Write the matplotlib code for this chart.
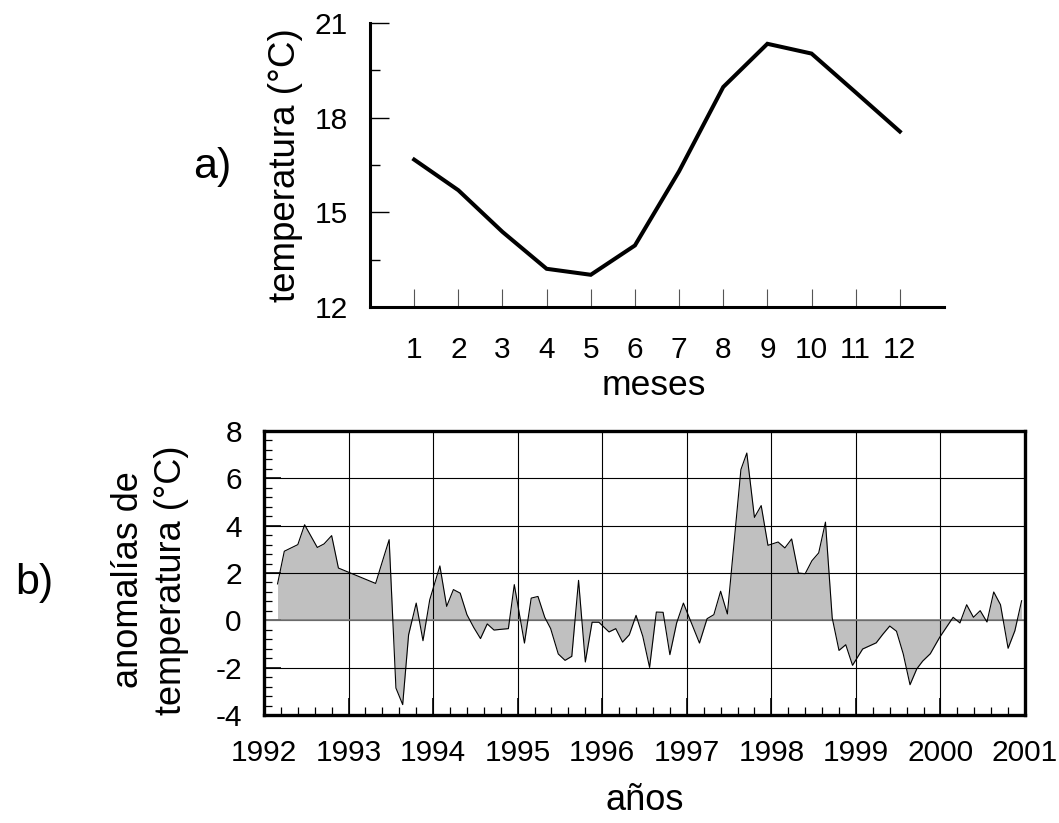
import matplotlib
matplotlib.use("Agg")
import matplotlib.pyplot as plt
from matplotlib.ticker import MultipleLocator

plt.rcParams['font.family'] = ['Liberation Sans', 'DejaVu Sans']
plt.rcParams['axes.unicode_minus'] = False

# a) monthly climatology
months = [1, 2, 3, 4, 5, 6, 7, 8, 9, 10, 11, 12]
temp_mean = [16.67, 15.70, 14.38, 13.21, 13.02, 13.95, 16.3, 18.97, 20.34, 20.03, 18.8, 17.56]

# b) monthly anomalies
years = [1992.16, 1992.24, 1992.40, 1992.48, 1992.63, 1992.71, 1992.80, 1992.88,
         1993.32, 1993.40, 1993.48, 1993.56, 1993.64, 1993.71, 1993.80, 1993.88,
         1993.96, 1994.08, 1994.16, 1994.24, 1994.32, 1994.40, 1994.48, 1994.56,
         1994.64, 1994.72, 1994.80, 1994.89, 1994.96, 1995.08, 1995.16, 1995.24,
         1995.32, 1995.39, 1995.48, 1995.56, 1995.64, 1995.72, 1995.80, 1995.88,
         1995.96, 1996.08, 1996.16, 1996.24, 1996.32, 1996.40, 1996.48, 1996.56,
         1996.64, 1996.72, 1996.80, 1996.88, 1996.96, 1997.15, 1997.24, 1997.32,
         1997.40, 1997.48, 1997.64, 1997.71, 1997.80, 1997.88, 1997.96, 1998.08,
         1998.16, 1998.24, 1998.32, 1998.40, 1998.48, 1998.56, 1998.64, 1998.72,
         1998.80, 1998.88, 1998.96, 1999.08, 1999.16, 1999.24, 1999.32, 1999.40,
         1999.48, 1999.56, 1999.64, 1999.72, 1999.79, 1999.88, 1999.99, 2000.15,
         2000.23, 2000.31, 2000.39, 2000.47, 2000.55, 2000.63, 2000.71, 2000.80,
         2000.88, 2000.96]
anomaly = [1.54, 2.92, 3.20, 4.04, 3.08, 3.23, 3.58, 2.21,
           1.56, 2.49, 3.41, -2.86, -3.56, -0.61, 0.73, -0.86,
           0.87, 2.30, 0.59, 1.30, 1.15, 0.24, -0.30, -0.77,
           -0.15, -0.41, -0.38, -0.35, 1.51, -0.96, 0.94, 1.01,
           0.13, -0.35, -1.42, -1.69, -1.52, 1.69, -1.76, -0.08,
           -0.08, -0.49, -0.35, -0.92, -0.61, 0.21, -0.68, -1.99,
           0.35, 0.34, -1.45, -0.11, 0.73, -0.96, 0.07, 0.24,
           1.23, 0.27, 6.37, 7.07, 4.35, 4.85, 3.17, 3.31,
           3.06, 3.44, 2.00, 1.97, 2.52, 2.85, 4.15, 0.10,
           -1.27, -1.03, -1.90, -1.21, -1.08, -0.95, -0.58, -0.24,
           -0.46, -1.42, -2.72, -2.05, -1.72, -1.41, -0.72, 0.13,
           -0.11, 0.66, 0.13, 0.41, -0.07, 1.20, 0.66, -1.18,
           -0.44, 0.83]
year_ticks = list(range(1992, 2002))

fig = plt.figure(figsize=(10.59, 8.23), dpi=100)

# ---- panel a
ax1 = fig.add_axes([0.3494, 0.6270, 0.542, 0.3451])
ax1.plot(months, temp_mean, color='black', lw=2.9, solid_joinstyle='miter')
ax1.set_xlim(0, 13)
ax1.set_ylim(12, 21)
for s in ['top', 'right']:
    ax1.spines[s].set_visible(False)
for s in ['left', 'bottom']:
    ax1.spines[s].set_linewidth(2.2)
ax1.set_xticks(months)
ax1.set_yticks([12, 15, 18, 21])
ax1.yaxis.set_minor_locator(MultipleLocator(1.5))
ax1.tick_params(axis='x', direction='in', length=13, width=0.8, color='#555555',
                pad=21, labelsize=21.5)
ax1.tick_params(axis='y', which='major', direction='in', length=13.5, width=1,
                pad=16, labelsize=21.5)
ax1.tick_params(axis='y', which='minor', direction='in', length=7, width=1)
ax1.set_ylabel('temperatura (°C)', fontsize=26.5, va='center')
ax1.yaxis.set_label_coords(-0.148, 0.5)
ax1.set_xlabel('meses', fontsize=25.5, va='center')
ax1.xaxis.set_label_coords(0.494, -0.275)
fig.text(0.2002, 0.797, 'a)', fontsize=31, ha='center', va='center')

# ---- panel b
ax2 = fig.add_axes([0.2493, 0.1312, 0.7186, 0.3451])
ax2.fill_between(years, anomaly, 0, color='#c0c0c0', lw=0, zorder=1)
ax2.plot(years, anomaly, color='black', lw=0.8, zorder=4)
ax2.axhline(0, color='#808080', lw=1.2, zorder=3)
ax2.set_xlim(1992, 2001)
ax2.set_ylim(-4, 8)
ax2.set_xticks(year_ticks)
ax2.set_xticklabels([str(y) for y in year_ticks])
ax2.set_yticks(range(-4, 9, 2))
ax2.xaxis.set_minor_locator(MultipleLocator(0.2))
ax2.yaxis.set_minor_locator(MultipleLocator(0.4))
ax2.grid(True, which='major', color='black', lw=0.8, zorder=2)
ax2.set_axisbelow(False)
for s in ax2.spines.values():
    s.set_linewidth(2.4)
    s.set_zorder(5)
ax2.tick_params(which='major', direction='in', length=12, width=1.2, labelsize=21.5)
ax2.tick_params(which='minor', direction='in', length=6, width=0.9)
ax2.tick_params(axis='x', which='major', pad=17)
ax2.tick_params(axis='y', which='major', pad=16)
ax2.set_ylabel('anomalías de\ntemperatura (°C)', fontsize=26, linespacing=1.3,
               va='center')
ax2.yaxis.set_label_coords(-0.150, 0.475)
ax2.set_xlabel('años', fontsize=26, va='center')
ax2.xaxis.set_label_coords(0.5, -0.30)
fig.text(0.032, 0.292, 'b)', fontsize=31, ha='center', va='center')

fig.savefig('out.png', dpi=100)
